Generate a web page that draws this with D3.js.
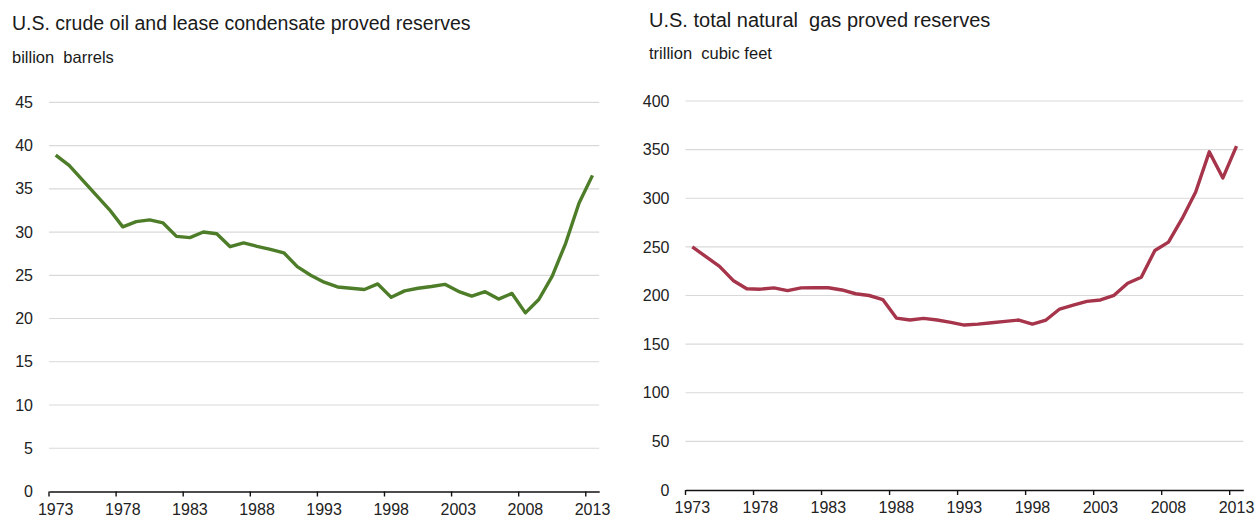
<!DOCTYPE html>
<html>
<head>
<meta charset="utf-8">
<script src="https://cdn.jsdelivr.net/npm/d3@7"></script>
<style>
  html, body { margin: 0; padding: 0; background: #fff; }
  svg { display: block; font-family: "Liberation Sans", Arial, sans-serif; }
  .title, .unit { white-space: pre; }
</style>
</head>
<body>
<div id="chart"></div>
<script>
// years 1973..2013
const years = d3.range(1973, 2014);
const labelYears = [1973, 1978, 1983, 1988, 1993, 1998, 2003, 2008, 2013];

// billion barrels
const oilReserves = [
  38.9, 37.7, 36.0, 34.3, 32.6, 30.6, 31.2, 31.4, 31.05, 29.5,
  29.35, 30.0, 29.8, 28.3, 28.75, 28.35, 28.0, 27.6, 26.0, 25.0,
  24.2, 23.65, 23.5, 23.35, 24.0, 22.45, 23.2, 23.5, 23.7, 23.95,
  23.15, 22.6, 23.1, 22.25, 22.9, 20.65, 22.2, 24.9, 28.7, 33.35,
  36.55
];
const oilTicks = [0, 5, 10, 15, 20, 25, 30, 35, 40, 45];

// trillion cubic feet
const gasReserves = [
  250, 240, 230, 215.5, 207, 206.5, 207.8, 205, 207.8, 208,
  208, 205.7, 201.8, 200, 195.8, 176.8, 174.8, 176.5, 174.8, 172.4,
  169.6, 170.6, 172, 173.4, 174.8, 170.6, 174.8, 186.1, 190.2, 194,
  195.4, 200.2, 212.6, 218.8, 246.3, 254.9, 279, 306.5, 347.7, 320.9,
  353.6
];
const gasTicks = [0, 50, 100, 150, 200, 250, 300, 350, 400];

const W = 1257, H = 518;
const svg = d3.select('#chart').append('svg')
    .attr('width', W)
    .attr('height', H);

function drawPanel(opts) {
    const g = svg.append('g');

    const x = d3.scaleBand().domain(years).range([opts.x0, opts.x1]);
    const bw = x.bandwidth();
    const y = d3.scaleLinear().domain([0, opts.max]).range([opts.yBottom, opts.yTop]);

    // titles
    g.append('text')
        .attr('class', 'title')
        .attr('x', opts.titleX)
        .attr('y', opts.titleY)
        .attr('fill', '#1a1a1a')
        .style('font-size', opts.titleSize + 'px')
        .text(opts.title);
    g.append('text')
        .attr('class', 'unit')
        .attr('x', opts.titleX)
        .attr('y', opts.unitY)
        .attr('fill', '#1a1a1a')
        .style('font-size', opts.unitSize + 'px')
        .text(opts.unit);

    // gridlines
    g.append('g').selectAll('line')
        .data(opts.ticks.filter(t => t > 0))
        .enter().append('line')
        .attr('x1', opts.x0)
        .attr('x2', opts.x1)
        .attr('y1', d => y(d))
        .attr('y2', d => y(d))
        .attr('stroke', '#d9d9d9')
        .attr('stroke-width', 1.2);

    // y axis labels
    const yAxis = g.append('g')
        .attr('transform', `translate(${opts.x0},0)`)
        .call(d3.axisLeft(y).tickValues(opts.ticks).tickSize(0).tickPadding(16));
    yAxis.select('.domain').remove();
    yAxis.selectAll('text')
        .style('font-size', '16px')
        .style('font-family', '"Liberation Sans", Arial, sans-serif')
        .attr('fill', '#222');

    // x axis, ticks on category edges, labels centred
    const xAxis = g.append('g')
        .attr('transform', `translate(0,${opts.yBottom})`)
        .call(d3.axisBottom(x).tickValues(labelYears).tickSize(5).tickSizeOuter(0).tickPadding(7));
    xAxis.select('.domain').attr('stroke', '#111').attr('stroke-width', 1.6);
    xAxis.selectAll('.tick line')
        .attr('x1', -bw / 2).attr('x2', -bw / 2)
        .attr('stroke', '#111').attr('stroke-width', 1.4);
    xAxis.selectAll('text')
        .style('font-size', '16px')
        .style('font-family', '"Liberation Sans", Arial, sans-serif')
        .attr('fill', '#222');

    // series line
    const line = d3.line()
        .x((d, i) => x(years[i]) + bw / 2)
        .y(d => y(d));
    g.append('path')
        .datum(opts.values)
        .attr('d', line)
        .attr('fill', 'none')
        .attr('stroke', opts.color)
        .attr('stroke-width', 3.4)
        .attr('stroke-linejoin', 'round');
}

drawPanel({
    title: 'U.S. crude oil and lease condensate proved reserves',
    unit: 'billion  barrels',
    titleX: 12, titleY: 30, titleSize: 19.5,
    unitY: 63, unitSize: 16.5,
    x0: 49, x1: 599.2,
    yTop: 102.3, yBottom: 491.5,
    max: 45,
    ticks: oilTicks,
    values: oilReserves,
    color: '#4e7d29'
});

drawPanel({
    title: 'U.S. total natural  gas proved reserves',
    unit: 'trillion  cubic feet',
    titleX: 649, titleY: 27, titleSize: 20,
    unitY: 59, unitSize: 16.5,
    x0: 685.5, x1: 1243.3,
    yTop: 101, yBottom: 490,
    max: 400,
    ticks: gasTicks,
    values: gasReserves,
    color: '#a6344a'
});
</script>
</body>
</html>
